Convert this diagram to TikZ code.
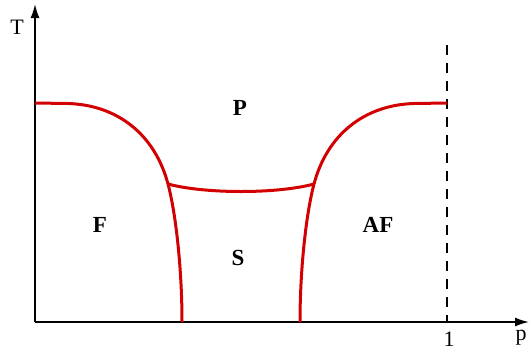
\documentclass[tikz,border=0pt]{standalone}
\usepackage{fontspec}
\setmainfont{Liberation Serif}
\usetikzlibrary{arrows.meta}
\definecolor{phasered}{RGB}{210,0,0}
\begin{document}
\begin{tikzpicture}[x=1pt,y=-1pt,
  axis/.style={line width=1.6pt,-{Latex[length=14pt,width=9pt]}},
  boundary/.style={line width=3pt,phasered},
  region/.style={font=\fontsize{23}{23}\selectfont\bfseries},
  axlabel/.style={font=\fontsize{22}{22}\selectfont}]
\useasboundingbox (0,0) rectangle (529,354);
\coordinate (O) at (35,322);
\coordinate (Ytop) at (35,4);
\coordinate (Xend) at (529,322);
\coordinate (D1) at (447,45);
\coordinate (D0) at (447,322);
\draw[axis] (O) -- (Ytop);
\draw[axis] (O) -- (Xend);
\draw[line width=1.4pt,dash pattern=on 10pt off 8pt] (D1) -- (D0);
\node[axlabel] (T) at (17,27) {T};
\node[axlabel] (p) at (521,338) {p};
\node[axlabel] (one) at (449,339) {1};
\node[region] (P) at (240,108) {P};
\node[region] (F) at (100,225) {F};
\node[region] (S) at (238,258) {S};
\node[region] (AF) at (378,225) {AF};
\draw[boundary] (35,103) -- (68,103.5) .. controls (118,105) and (155,135) .. (168,184)
  .. controls (176,214) and (182,270) .. (182,322);
\draw[boundary] (447,103) -- (414,103.5) .. controls (364,105) and (327,135) .. (314,184)
  .. controls (306,214) and (300,270) .. (300,322);
\draw[boundary] (168,184) .. controls (205,194) and (277,194) .. (314,184);
\end{tikzpicture}
\end{document}
